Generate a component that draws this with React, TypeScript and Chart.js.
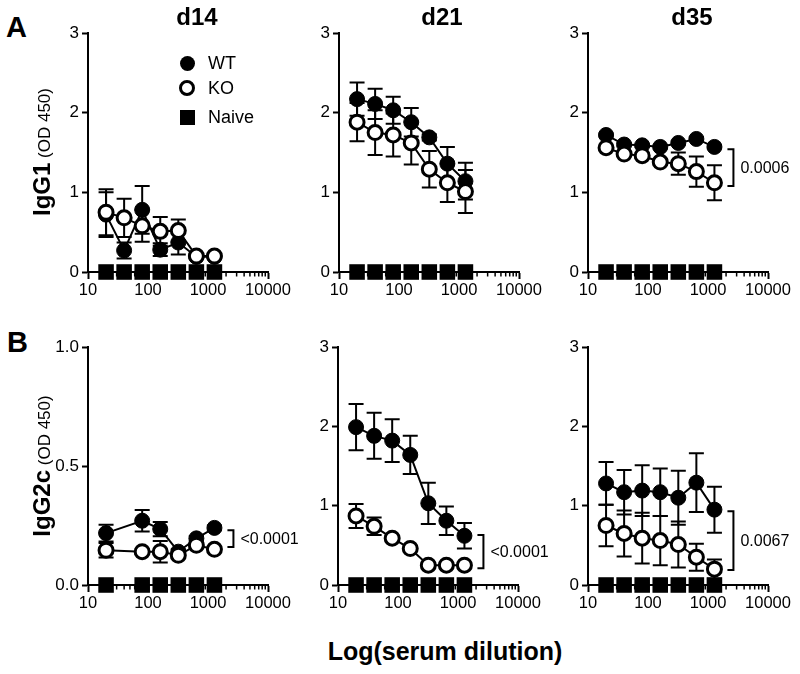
import React, { useEffect, useRef } from "react";
import { Chart, registerables } from "chart.js";

Chart.register(...registerables);

const FONT = '"Liberation Sans", Arial, Helvetica, sans-serif';

// ---------------- data ----------------
const dilutions = [20, 40, 80, 160, 320, 640, 1280];
const xTickValues = [10, 100, 1000, 10000];
const yTicksStd = [0, 1, 2, 3];
const yTicksLow = [0, 0.5, 1.0];

const naive = [0, 0, 0, 0, 0, 0, 0];
const naiveIgg2cD14 = [0, null, 0, 0, 0, 0, 0];

// IgG1 d14
const igg1D14WT = [0.72, 0.27, 0.78, 0.28, 0.37, 0.19, 0.19];
const igg1D14WTErr = [0.28, 0.1, 0.3, 0.08, 0.15, 0.02, 0.02];
const igg1D14KO = [0.75, 0.68, 0.58, 0.51, 0.52, 0.2, 0.2];
const igg1D14KOErr = [0.29, 0.24, 0.2, 0.18, 0.14, 0.02, 0.02];

// IgG1 d21
const igg1D21WT = [2.17, 2.11, 2.03, 1.88, 1.69, 1.36, 1.14];
const igg1D21WTErr = [0.21, 0.19, 0.17, 0.18, 0.04, 0.21, 0.23];
const igg1D21KO = [1.88, 1.75, 1.72, 1.62, 1.29, 1.12, 1.01];
const igg1D21KOErr = [0.24, 0.28, 0.27, 0.27, 0.23, 0.24, 0.27];

// IgG1 d35
const igg1D35WT = [1.72, 1.6, 1.59, 1.57, 1.62, 1.67, 1.57];
const igg1D35WTErr = [0.02, 0.02, 0.02, 0.02, 0.02, 0.02, 0.02];
const igg1D35KO = [1.56, 1.48, 1.46, 1.38, 1.36, 1.26, 1.12];
const igg1D35KOErr = [0.02, 0.02, 0.03, 0.04, 0.14, 0.19, 0.22];
const igg1D35Bracket = [1.54, 1.08];
const igg1D35P = "0.0006";

// IgG2c d14
const igg2cD14WT = [0.218, null, 0.27, 0.235, 0.14, 0.196, 0.24];
const igg2cD14WTErr = [0.035, null, 0.045, 0.03, 0.01, 0.01, 0.01];
const igg2cD14KO = [0.146, null, 0.14, 0.14, 0.125, 0.167, 0.15];
const igg2cD14KOErr = [0.03, null, 0.01, 0.045, 0.01, 0.01, 0.01];
const igg2cD14Bracket = [0.23, 0.16];
const igg2cD14P = "<0.0001";

// IgG2c d21
const igg2cD21WT = [1.99, 1.88, 1.82, 1.64, 1.03, 0.81, 0.62];
const igg2cD21WTErr = [0.29, 0.29, 0.27, 0.24, 0.26, 0.18, 0.16];
const igg2cD21KO = [0.87, 0.74, 0.59, 0.46, 0.25, 0.25, 0.25];
const igg2cD21KOErr = [0.15, 0.11, 0.02, 0.02, 0.02, 0.02, 0.02];
const igg2cD21Bracket = [0.63, 0.21];
const igg2cD21P = "<0.0001";

// IgG2c d35
const igg2cD35WT = [1.28, 1.17, 1.19, 1.17, 1.1, 1.29, 0.95];
const igg2cD35WTErr = [0.27, 0.28, 0.32, 0.3, 0.34, 0.37, 0.29];
const igg2cD35KO = [0.75, 0.65, 0.59, 0.56, 0.51, 0.35, 0.2];
const igg2cD35KOErr = [0.26, 0.29, 0.32, 0.31, 0.29, 0.17, 0.12];
const igg2cD35Bracket = [0.93, 0.19];
const igg2cD35P = "0.0067";

// ---------------- layout ----------------
const LW = 50; // y-scale box width
const PT = 14; // top padding
const XH = 36; // x-scale box height
const PR = 60; // right padding
const PLOT_W = 180;

type PanelCfg = {
  axisX: number;
  top: number;
  bottom: number;
  yMax: number;
  yTicks: number[];
  decimals: number;
  wt: (number | null)[];
  wtErr: (number | null)[];
  ko: (number | null)[];
  koErr: (number | null)[];
  nv: (number | null)[];
  bracket?: number[];
  p?: string;
};

const panels: PanelCfg[] = [
  { axisX: 88, top: 33, bottom: 272, yMax: 3, yTicks: yTicksStd, decimals: 0, wt: igg1D14WT, wtErr: igg1D14WTErr, ko: igg1D14KO, koErr: igg1D14KOErr, nv: naive },
  { axisX: 339, top: 33, bottom: 272, yMax: 3, yTicks: yTicksStd, decimals: 0, wt: igg1D21WT, wtErr: igg1D21WTErr, ko: igg1D21KO, koErr: igg1D21KOErr, nv: naive },
  { axisX: 588, top: 33, bottom: 272, yMax: 3, yTicks: yTicksStd, decimals: 0, wt: igg1D35WT, wtErr: igg1D35WTErr, ko: igg1D35KO, koErr: igg1D35KOErr, nv: naive, bracket: igg1D35Bracket, p: igg1D35P },
  { axisX: 88, top: 347, bottom: 585, yMax: 1, yTicks: yTicksLow, decimals: 1, wt: igg2cD14WT, wtErr: igg2cD14WTErr, ko: igg2cD14KO, koErr: igg2cD14KOErr, nv: naiveIgg2cD14, bracket: igg2cD14Bracket, p: igg2cD14P },
  { axisX: 338, top: 347, bottom: 585, yMax: 3, yTicks: yTicksStd, decimals: 0, wt: igg2cD21WT, wtErr: igg2cD21WTErr, ko: igg2cD21KO, koErr: igg2cD21KOErr, nv: naive, bracket: igg2cD21Bracket, p: igg2cD21P },
  { axisX: 588, top: 347, bottom: 585, yMax: 3, yTicks: yTicksStd, decimals: 0, wt: igg2cD35WT, wtErr: igg2cD35WTErr, ko: igg2cD35KO, koErr: igg2cD35KOErr, nv: naive, bracket: igg2cD35Bracket, p: igg2cD35P },
];

function Panel({ cfg }: { cfg: PanelCfg }) {
  const ref = useRef<HTMLCanvasElement>(null);
  const W = LW + PLOT_W + PR;
  const H = PT + (cfg.bottom - cfg.top) + XH;

  useEffect(() => {
    const toPts = (vals: (number | null)[]) => dilutions.map((x, i) => ({ x, y: vals[i] }));

    const errorPlugin = {
      id: "errorbars",
      beforeDatasetsDraw(chart: any) {
        const ctx = chart.ctx;
        const xs = chart.scales.x;
        const ys = chart.scales.y;
        ctx.save();
        // minor ticks on x axis
        ctx.strokeStyle = "#000";
        ctx.lineWidth = 1.5;
        const yb = chart.chartArea.bottom;
        for (let d = 10; d < 10000; d *= 10) {
          for (let k = 2; k <= 9; k++) {
            const px = xs.getPixelForValue(k * d);
            ctx.beginPath();
            ctx.moveTo(px, yb);
            ctx.lineTo(px, yb + 4.5);
            ctx.stroke();
          }
        }
        // error bars
        ctx.lineWidth = 2;
        chart.data.datasets.forEach((ds: any) => {
          if (!ds.errors) return;
          ds.data.forEach((pt: any, i: number) => {
            const e = ds.errors[i];
            if (pt.y == null || e == null) return;
            const px = xs.getPixelForValue(pt.x);
            const yt = ys.getPixelForValue(pt.y + e);
            const ybt = ys.getPixelForValue(Math.max(pt.y - e, 0));
            ctx.beginPath();
            ctx.moveTo(px, yt);
            ctx.lineTo(px, ybt);
            ctx.moveTo(px - 7.5, yt);
            ctx.lineTo(px + 7.5, yt);
            ctx.moveTo(px - 7.5, ybt);
            ctx.lineTo(px + 7.5, ybt);
            ctx.stroke();
          });
        });
        ctx.restore();
      },
      afterDatasetsDraw(chart: any) {
        if (!cfg.bracket) return;
        const ctx = chart.ctx;
        const xs = chart.scales.x;
        const ys = chart.scales.y;
        const bx = xs.getPixelForValue(dilutions[dilutions.length - 1]) + 19;
        const y1 = ys.getPixelForValue(cfg.bracket[0]);
        const y2 = ys.getPixelForValue(cfg.bracket[1]);
        ctx.save();
        ctx.strokeStyle = "#000";
        ctx.lineWidth = 2;
        ctx.beginPath();
        ctx.moveTo(bx - 6, y1);
        ctx.lineTo(bx, y1);
        ctx.lineTo(bx, y2);
        ctx.lineTo(bx - 6, y2);
        ctx.stroke();
        ctx.fillStyle = "#000";
        ctx.font = `16px ${FONT}`;
        ctx.textAlign = "left";
        ctx.textBaseline = "middle";
        ctx.fillText(cfg.p, bx + 7, (y1 + y2) / 2 + 1);
        ctx.restore();
      },
    };

    const chart = new Chart(ref.current as HTMLCanvasElement, {
      type: "line",
      data: {
        datasets: [
          {
            label: "WT",
            data: toPts(cfg.wt),
            errors: cfg.wtErr,
            order: 1,
            borderColor: "#000",
            borderWidth: 2,
            pointStyle: "circle",
            pointRadius: 7.5,
            pointBackgroundColor: "#000",
            pointBorderColor: "#000",
            pointBorderWidth: 1,
            spanGaps: true,
            clip: false,
            tension: 0,
          } as any,
          {
            label: "KO",
            data: toPts(cfg.ko),
            errors: cfg.koErr,
            order: 0,
            borderColor: "#000",
            borderWidth: 2,
            pointStyle: "circle",
            pointRadius: 7,
            pointBackgroundColor: "#fff",
            pointBorderColor: "#000",
            pointBorderWidth: 3,
            spanGaps: true,
            clip: false,
            tension: 0,
          } as any,
          {
            label: "Naive",
            data: toPts(cfg.nv),
            order: 2,
            showLine: false,
            pointStyle: "rect",
            pointRadius: 11,
            pointBackgroundColor: "#000",
            pointBorderColor: "#000",
            pointBorderWidth: 0,
            clip: false,
          } as any,
        ],
      },
      options: {
        responsive: false,
        maintainAspectRatio: false,
        animation: false,
        events: [],
        layout: { padding: { left: 0, top: PT, right: PR, bottom: 0 } },
        plugins: { legend: { display: false }, tooltip: { enabled: false }, title: { display: false } },
        scales: {
          x: {
            type: "logarithmic",
            min: 10,
            max: 10000,
            afterBuildTicks: (s: any) => {
              s.ticks = xTickValues.map((v) => ({ value: v }));
            },
            afterFit: (s: any) => {
              s.height = XH;
            },
            ticks: {
              callback: (v: any) => String(v),
              color: "#000",
              font: { family: FONT, size: 16.5 },
              padding: 2,
              maxRotation: 0,
              autoSkip: false,
            },
            grid: { drawOnChartArea: false, drawTicks: true, tickLength: 7, tickWidth: 2, tickColor: "#000" },
            border: { display: true, color: "#000", width: 2 },
          },
          y: {
            type: "linear",
            min: 0,
            max: cfg.yMax,
            afterBuildTicks: (s: any) => {
              s.ticks = cfg.yTicks.map((v) => ({ value: v }));
            },
            afterFit: (s: any) => {
              s.width = LW;
            },
            ticks: {
              callback: (v: any) => Number(v).toFixed(cfg.decimals),
              color: "#000",
              font: { family: FONT, size: 17 },
              padding: 3,
            },
            grid: { drawOnChartArea: false, drawTicks: true, tickLength: 6, tickWidth: 2, tickColor: "#000" },
            border: { display: true, color: "#000", width: 2 },
          },
        },
      } as any,
      plugins: [errorPlugin as any],
    });
    return () => chart.destroy();
  }, []);

  return (
    <canvas
      ref={ref}
      width={W}
      height={H}
      style={{ position: "absolute", left: cfg.axisX - LW, top: cfg.top - PT, width: W, height: H }}
    />
  );
}

const abs = (extra: React.CSSProperties): React.CSSProperties => ({
  position: "absolute",
  fontFamily: FONT,
  color: "#000",
  whiteSpace: "nowrap",
  ...extra,
});

export default function App() {
  return (
    <div style={{ position: "fixed", left: 0, top: 0, width: 800, height: 674, background: "#fff", overflow: "hidden" }}>
      {panels.map((p, i) => (
        <Panel key={i} cfg={p} />
      ))}

      {/* panel letters */}
      <div style={abs({ left: 6, top: 13, fontSize: 29, fontWeight: "bold", lineHeight: "29px" })}>A</div>
      <div style={abs({ left: 7, top: 328, fontSize: 29, fontWeight: "bold", lineHeight: "29px" })}>B</div>

      {/* column titles */}
      {[
        ["d14", 197],
        ["d21", 442],
        ["d35", 692],
      ].map(([t, cx]) => (
        <div
          key={t as string}
          style={abs({ left: (cx as number) - 40, width: 80, textAlign: "center", top: 5, fontSize: 24, fontWeight: "bold", lineHeight: "24px" })}
        >
          {t}
        </div>
      ))}

      {/* y titles */}
      <div style={abs({ left: 42, top: 152, transform: "translate(-50%,-50%) rotate(-90deg)", lineHeight: 1.15 })}>
        <span style={{ fontWeight: "bold", fontSize: 24 }}>IgG1</span>
        <span style={{ fontSize: 17 }}> (OD 450)</span>
      </div>
      <div style={abs({ left: 42, top: 466, transform: "translate(-50%,-50%) rotate(-90deg)", lineHeight: 1.15 })}>
        <span style={{ fontWeight: "bold", fontSize: 24 }}>IgG2c</span>
        <span style={{ fontSize: 17 }}> (OD 450)</span>
      </div>

      {/* x title */}
      <div style={abs({ left: 245, width: 400, textAlign: "center", top: 639, fontSize: 25, fontWeight: "bold", lineHeight: "25px" })}>
        Log(serum dilution)
      </div>

      {/* legend */}
      <div style={abs({ left: 179.5, top: 55.5, width: 15, height: 15, borderRadius: "50%", background: "#000" })} />
      <div style={abs({ left: 179, top: 80, width: 16, height: 16, borderRadius: "50%", border: "3px solid #000", boxSizing: "border-box", background: "#fff" })} />
      <div style={abs({ left: 179.5, top: 109.5, width: 15, height: 15, background: "#000" })} />
      <div style={abs({ left: 208, top: 53, fontSize: 18, lineHeight: "20px", height: 20 })}>WT</div>
      <div style={abs({ left: 208, top: 78, fontSize: 18, lineHeight: "20px", height: 20 })}>KO</div>
      <div style={abs({ left: 208, top: 107, fontSize: 18, lineHeight: "20px", height: 20 })}>Naive</div>
    </div>
  );
}
